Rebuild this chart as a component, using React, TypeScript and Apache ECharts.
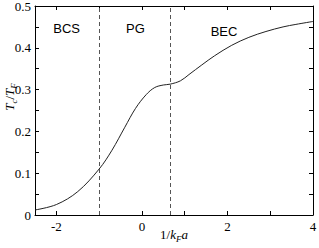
import React, { useEffect, useRef } from "react";
import * as echarts from "echarts";

// Curve T_c/T_F vs 1/(k_F a)
const curveX = [-2.5, -2, -1.5, -1, -0.7, -0.4, -0.15, 0.1, 0.3, 0.5, 0.66, 0.9, 1.1, 1.4, 1.7, 2.1, 2.5, 2.9, 3.3, 3.6, 4.0];
const curveY = [0.012, 0.025, 0.056, 0.11, 0.155, 0.21, 0.255, 0.288, 0.305, 0.311, 0.313, 0.321, 0.336, 0.359, 0.381, 0.406, 0.425, 0.439, 0.45, 0.456, 0.463];

// Region boundaries (dashed lines)
const boundaries = [-1, 0.66];

// Region labels
const regionNames = ["BCS", "PG", "BEC"];
const regionX = [-1.76, -0.15, 1.92];
const regionY = [0.447, 0.445, 0.44];

const X_MIN = -2.5;
const X_MAX = 4;
const Y_MIN = 0;
const Y_MAX = 0.5;

const serif = "Liberation Serif";
const sans = "Liberation Sans";

export default function App() {
  const ref = useRef<HTMLDivElement>(null);

  useEffect(() => {
    if (!ref.current) return;
    const chart = echarts.init(ref.current, undefined, { renderer: "svg" });

    const xFormatter = (v: number) =>
      Math.abs(v - Math.round(v)) < 1e-9 && Math.round(v) % 2 === 0 ? String(Math.round(v)) : "";
    const yFormatter = (v: number) => {
      const t = v * 10;
      return Math.abs(t - Math.round(t)) < 1e-6 ? String(Math.round(t) / 10) : "";
    };

    const axisLine = { show: true, onZero: false, lineStyle: { color: "#000", width: 1 } };
    const axisTick = { show: true, inside: true, length: 4, lineStyle: { color: "#000", width: 1 } };

    const xBase = {
      type: "value" as const,
      min: X_MIN,
      max: X_MAX,
      minInterval: 1,
      maxInterval: 1,
      axisLine,
      axisTick,
      splitLine: { show: false },
    };
    const yBase = {
      type: "value" as const,
      min: Y_MIN,
      max: Y_MAX,
      interval: 0.05,
      axisLine,
      axisTick,
      splitLine: { show: false },
    };

    const nameRich = {
      i: { fontFamily: serif, fontStyle: "italic", fontSize: 13, color: "#000", lineHeight: 18, verticalAlign: "middle" },
      n: { fontFamily: serif, fontSize: 13, color: "#000", lineHeight: 18, verticalAlign: "middle" },
      s: { fontFamily: serif, fontStyle: "italic", fontSize: 9, color: "#000", lineHeight: 9, verticalAlign: "bottom" },
    };

    chart.setOption({
      animation: false,
      backgroundColor: "#fff",
      grid: { left: 35, right: 6, top: 6, bottom: 33, containLabel: false, outerBoundsMode: "none" },
      xAxis: [
        {
          ...xBase,
          position: "bottom",
          axisLabel: {
            show: true,
            formatter: xFormatter,
            color: "#000",
            fontFamily: serif,
            fontSize: 13,
            margin: 5,
            showMinLabel: false,
            showMaxLabel: true,
          },
        },
        {
          ...xBase,
          position: "top",
          axisLabel: { show: false },
        },
      ],
      yAxis: [
        {
          ...yBase,
          position: "left",
          axisLabel: {
            show: true,
            formatter: yFormatter,
            color: "#000",
            fontFamily: serif,
            fontSize: 13,
            margin: 4,
            showMinLabel: true,
            showMaxLabel: true,
          },
        },
        {
          ...yBase,
          position: "right",
          axisLabel: { show: false },
        },
      ],
      series: [
        {
          type: "line",
          xAxisIndex: 0,
          yAxisIndex: 0,
          data: curveX.map((x, i) => [x, curveY[i]]),
          smooth: 0.35,
          showSymbol: false,
          symbol: "none",
          lineStyle: { color: "#222", width: 1 },
          silent: true,
          markLine: {
            silent: true,
            symbol: "none",
            label: { show: false },
            lineStyle: { color: "#555", width: 1, type: [4, 3] },
            data: boundaries.map((b) => ({ xAxis: b })),
          },
        },
      ],
    });

    const regionTexts = regionNames.map((n, i) => {
      const [px, py] = chart.convertToPixel({ gridIndex: 0 }, [regionX[i], regionY[i]]) as number[];
      return {
        type: "text",
        x: px,
        y: py,
        silent: true,
        style: {
          text: n,
          fill: "#000",
          fontFamily: sans,
          fontSize: 13,
          align: "center",
          verticalAlign: "middle",
        },
      };
    });

    chart.setOption({
      graphic: [
        {
          type: "text",
          x: 9,
          y: 97,
          rotation: Math.PI / 2,
          silent: true,
          style: {
            text: "{i|T}{s|c}{n|/}{i|T}{s|F}",
            rich: nameRich,
            align: "center",
            verticalAlign: "middle",
          },
        },
        {
          type: "text",
          x: 174,
          y: 234,
          silent: true,
          style: {
            text: "{n|1/}{i|k}{s|F}{i|a}",
            rich: nameRich,
            align: "center",
            verticalAlign: "middle",
          },
        },
        ...regionTexts,
      ],
    });

    return () => chart.dispose();
  }, []);

  return (
    <div
      ref={ref}
      style={{ position: "fixed", left: 0, top: 0, width: 319, height: 248, background: "#fff" }}
    />
  );
}
